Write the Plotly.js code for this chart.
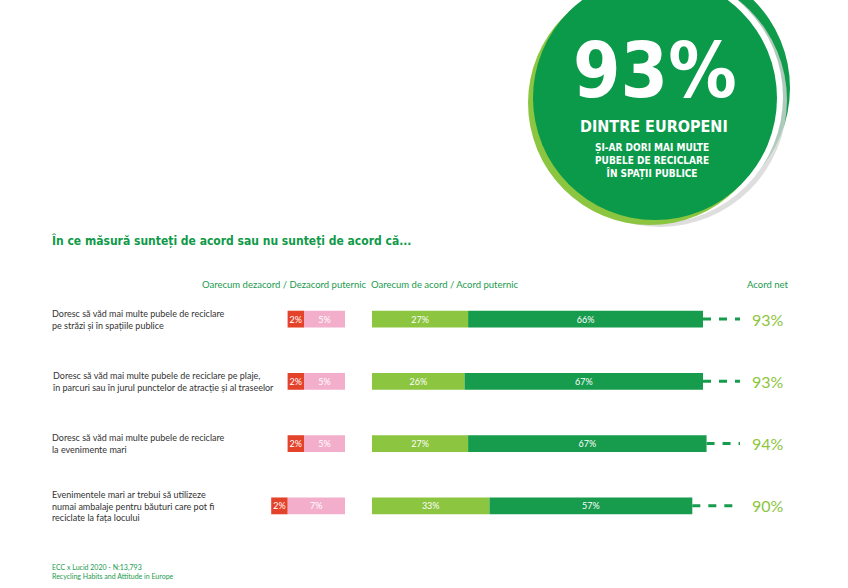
<!DOCTYPE html>
<html>
<head>
<meta charset="utf-8">
<script src="https://cdn.plot.ly/plotly-3.0.1.min.js"></script>
<style>
  html, body { margin: 0; padding: 0; background: #fff; }
  #chart { width: 848px; height: 588px; }
</style>
</head>
<body>
<div id="chart"></div>
<script>
// statements (rows, top to bottom)
var statements = [
  'Doresc să văd mai multe pubele de reciclare<br>pe străzi și în spațiile publice',
  'Doresc să văd mai multe pubele de reciclare pe plaje,<br>în parcuri sau în jurul punctelor de atracție și al traseelor',
  'Doresc să văd mai multe pubele de reciclare<br>la evenimente mari',
  'Evenimentele mari ar trebui să utilizeze<br>numai ambalaje pentru băuturi care pot fi<br>reciclate la fața locului'
];
var rowIds = ['r1', 'r2', 'r3', 'r4'];

var disagreeSome   = [5, 5, 5, 7];    // Oarecum dezacord
var disagreeStrong = [2, 2, 2, 2];    // Dezacord puternic
var agreeSome      = [27, 26, 27, 33]; // Oarecum de acord
var agreeStrong    = [66, 67, 67, 57]; // Acord puternic
var netAgree       = [93, 93, 94, 90]; // Acord net

var headline = '93%';
var headSub = 'DINTRE EUROPENI';
var headText = 'ȘI-AR DORI MAI MULTE<br>PUBELE DE RECICLARE<br>ÎN SPAȚII PUBLICE';
var question = 'În ce măsură sunteți de acord sau nu sunteți de acord că...';
var hdrDisagree = 'Oarecum dezacord / Dezacord puternic';
var hdrAgree = 'Oarecum de acord / Acord puternic';
var hdrNet = 'Acord net';
var source = 'ECC x Lucid 2020 - N:13,793<br>Recycling Habits and Attitude in Europe';

var W = 848, H = 588;
var GREEN = '#179b4d', LIGHT = '#8cc540', RED = '#e4432b', PINK = '#f3aecb';
var FONT = 'Lato, "Noto Sans", sans-serif';
var BOLD = '"DejaVu Sans Condensed", "DejaVu Sans", sans-serif';

function px(x) { return x / W; }
function py(y) { return 1 - y / H; }
function pct(a) { return a.map(function (v) { return v + '%'; }); }

// positive side: 0 at 372px, 93 at 703px
var posScale = (703 - 372) / 93;
var posMax = (740 - 372) / posScale;
// negative side: ~8.2px per point
var negMin = -(345 - 250) / 8.2;

var barStyle = {
  type: 'bar', orientation: 'h', width: 0.27,
  textposition: 'inside', insidetextanchor: 'middle', textangle: 0,
  constraintext: 'none',
  textfont: {family: FONT, size: 9, color: '#fff'},
  hoverinfo: 'skip'
};

var data = [
  Object.assign({}, barStyle, {x: disagreeSome.map(function (v) { return -v; }), y: rowIds,
    text: pct(disagreeSome), marker: {color: PINK}, xaxis: 'x', yaxis: 'y'}),
  Object.assign({}, barStyle, {x: disagreeStrong.map(function (v) { return -v; }), y: rowIds,
    text: pct(disagreeStrong), marker: {color: RED}, xaxis: 'x', yaxis: 'y'}),
  Object.assign({}, barStyle, {x: agreeSome, y: rowIds,
    text: pct(agreeSome), marker: {color: LIGHT}, xaxis: 'x2', yaxis: 'y'}),
  Object.assign({}, barStyle, {x: agreeStrong, y: rowIds,
    text: pct(agreeStrong), marker: {color: GREEN}, xaxis: 'x2', yaxis: 'y'})
];

// dashed leaders from bar end to the net column
for (var i = 0; i < rowIds.length; i++) {
  data.push({
    type: 'scatter', mode: 'lines', x: [netAgree[i], posMax], y: [rowIds[i], rowIds[i]],
    xaxis: 'x2', yaxis: 'y', hoverinfo: 'skip', cliponaxis: false,
    line: {color: GREEN, width: 3, dash: '8px,8px'}
  });
}

var annotations = [];
for (var i = 0; i < rowIds.length; i++) {
  annotations.push({
    xref: 'paper', yref: 'y', x: px(50), y: rowIds[i], xanchor: 'left', yanchor: 'middle',
    align: 'left', text: statements[i], showarrow: false,
    font: {family: FONT, size: 9, color: '#333'}
  });
  annotations.push({
    xref: 'paper', yref: 'y', x: px(768), y: rowIds[i], xanchor: 'center', yanchor: 'middle',
    text: netAgree[i] + '%', showarrow: false,
    font: {family: FONT, size: 16, color: LIGHT}
  });
}

annotations.push(
  {xref: 'paper', yref: 'paper', x: px(50), y: py(240), xanchor: 'left', yanchor: 'middle',
   text: '<b>' + question + '</b>', showarrow: false, font: {family: BOLD, size: 12, color: '#0f9a48'}},
  {xref: 'paper', yref: 'paper', x: px(369), y: py(285), xanchor: 'right', yanchor: 'middle',
   text: hdrDisagree, showarrow: false, font: {family: FONT, size: 9.5, color: '#1a9a4e'}},
  {xref: 'paper', yref: 'paper', x: px(369), y: py(285), xanchor: 'left', yanchor: 'middle',
   text: hdrAgree, showarrow: false, font: {family: FONT, size: 9.5, color: '#1a9a4e'}},
  {xref: 'paper', yref: 'paper', x: px(767), y: py(285), xanchor: 'center', yanchor: 'middle',
   text: hdrNet, showarrow: false, font: {family: FONT, size: 9.5, color: '#1a9a4e'}},
  {xref: 'paper', yref: 'paper', x: px(50), y: py(571), xanchor: 'left', yanchor: 'middle',
   align: 'left', text: source, showarrow: false, font: {family: FONT, size: 7, color: '#1a9a4e'}},
  {xref: 'paper', yref: 'paper', x: px(655), y: py(70), xanchor: 'center', yanchor: 'middle',
   text: '<b>' + headline + '</b>', showarrow: false, font: {family: BOLD, size: 76, color: '#fff'}},
  {xref: 'paper', yref: 'paper', x: px(654), y: py(126), xanchor: 'center', yanchor: 'middle',
   text: '<b>' + headSub + '</b>', showarrow: false, font: {family: BOLD, size: 16, color: '#fff'}},
  {xref: 'paper', yref: 'paper', x: px(652), y: py(161), xanchor: 'center', yanchor: 'middle',
   text: '<b>' + headText + '</b>', showarrow: false, font: {family: BOLD, size: 10, color: '#fff'}}
);

function circle(cx, cy, r, color, opacity) {
  return {type: 'circle', xref: 'paper', yref: 'paper', layer: 'below',
    x0: px(cx - r), x1: px(cx + r), y0: py(cy + r), y1: py(cy - r),
    fillcolor: color, opacity: opacity || 1, line: {width: 0}};
}

var shapes = [
  circle(666, 88, 124, '#0f9b4a'),
  circle(660, 100, 127, '#d6d6d6', 0.8),
  circle(657, 97, 126, '#fff'),
  circle(650, 103, 122, LIGHT),
  circle(655, 98, 122, '#0a9a4a')
];

var layout = {
  width: W, height: H,
  margin: {l: 0, r: 0, t: 0, b: 0},
  paper_bgcolor: '#fff', plot_bgcolor: 'rgba(0,0,0,0)',
  showlegend: false, barmode: 'relative',
  xaxis: {domain: [px(250), px(345)], range: [negMin, 0], visible: false, fixedrange: true},
  xaxis2: {domain: [px(372), px(740)], range: [0, posMax], visible: false, fixedrange: true},
  yaxis: {domain: [py(537), py(288)], type: 'category', range: [3.5, -0.5], visible: false},
  annotations: annotations,
  shapes: shapes
};

Plotly.newPlot('chart', data, layout, {displayModeBar: false, staticPlot: true});
</script>
</body>
</html>
